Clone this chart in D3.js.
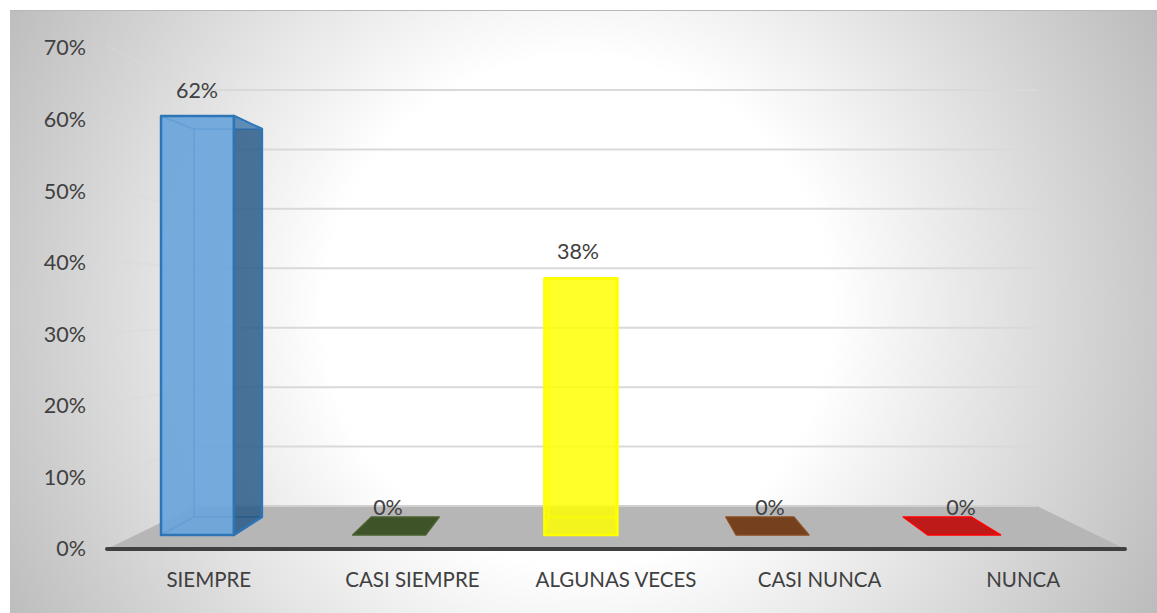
<!DOCTYPE html>
<html>
<head>
<meta charset="utf-8">
<script src="https://cdnjs.cloudflare.com/ajax/libs/d3/7.8.5/d3.min.js"></script>
<style>html,body{margin:0;padding:0;background:#fff;overflow:hidden}svg{display:block}text{font-family:Lato,"Open Sans",sans-serif}</style>
</head>
<body>
<div id="chart"></div>
<script>
const categories = ["SIEMPRE","CASI SIEMPRE","ALGUNAS VECES","CASI NUNCA","NUNCA"];
const values = [62,0,38,0,0];
const labels = ["62%","0%","38%","0%","0%"];
const yTicks = [0,10,20,30,40,50,60,70];
const fills = ["#6aa5db","#3f5329","#ffff00","#74401d","#bf1a1a"];
const strokes = ["#2e75b6","#4a6130","#ffff00","#8a4a1f","#ff0000"];
const sideFills = ["#1f4e79","#3f5329","#ffff00","#74401d","#bf1a1a"];
const frontOpacity = [0.85,1,0.78,1,1];
const innerOpacity = [0.45,1,0.25,1,1];

const W = 1157, H = 613;
const svg = d3.select("#chart").append("svg").attr("width",W).attr("height",H);
const defs = svg.append("defs");
const g = defs.append("radialGradient").attr("id","bg").attr("gradientUnits","userSpaceOnUse")
  .attr("cx",578).attr("cy",311).attr("r",650);
[[0,"#ffffff"],[0.39,"#ffffff"],[1,"#bcbcbc"]].forEach(s=>
  g.append("stop").attr("offset",s[0]).attr("stop-color",s[1]));
svg.append("rect").attr("x",10).attr("y",10).attr("width",W-10).attr("height",H-10).attr("fill","url(#bg)");
svg.append("line").attr("x1",10).attr("x2",W).attr("y1",10.5).attr("y2",10.5).attr("stroke","#b8b8b8");

// Projection planes
const yAxisS = d3.scaleLinear().domain([0,70]).range([549,48]);
const yBack  = d3.scaleLinear().domain([0,70]).range([506,90]);
const yBarF  = d3.scaleLinear().domain([0,62]).range([535,116]);
const yBarB  = d3.scaleLinear().domain([0,62]).range([517,129]);
const xLabel = d3.scaleBand().domain(categories).range([107,1125]);
const xF = d3.scaleBand().domain(categories).range([101.6,1060]).paddingInner(0.62).paddingOuter(0.31);
const xB = d3.scaleBand().domain(categories).range([139.3,1025.8]).paddingInner(0.617).paddingOuter(0.3085);
const floorFront = [107,1125], floorBack = [195,1037];

// Walls
const grid = svg.append("g");
yTicks.filter(d=>d>0).forEach(d=>{
  grid.append("line").attr("x1",floorBack[0]).attr("x2",floorBack[1]).attr("y1",yBack(d)).attr("y2",yBack(d))
    .attr("stroke","#d9d9d9").attr("stroke-width",2);
  grid.append("line").attr("x1",floorFront[0]).attr("x2",floorBack[0]).attr("y1",yAxisS(d)-2).attr("y2",yBack(d))
    .attr("stroke","#d9d9d9").attr("stroke-opacity",0.4).attr("stroke-width",2);
});

// Floor
const path = pts => "M"+pts.map(p=>p.join(",")).join("L")+"Z";
svg.append("path").attr("d",path([[floorFront[0],549],[floorBack[0],506],[floorBack[1],506],[floorFront[1],549]])).attr("fill","#b6b6b6");
svg.append("line").attr("x1",floorBack[0]).attr("x2",floorBack[1]).attr("y1",506).attr("y2",506).attr("stroke","#d0d0d0").attr("stroke-width",2);
svg.append("line").attr("x1",floorFront[0]).attr("x2",floorFront[1]).attr("y1",549).attr("y2",549)
  .attr("stroke","#404040").attr("stroke-width",4).attr("stroke-linecap","round");

// Bars
const bars = svg.selectAll("g.bar").data(categories).join("g").attr("class","bar");
bars.each(function(c,i){
  const s = d3.select(this), v = values[i];
  const fl = xF(c), fr = fl+xF.bandwidth(), bl = xB(c), br = bl+xB.bandwidth();
  const f0 = yBarF(0), ft = yBarF(v), b0 = yBarB(0), bt = yBarB(v);
  const face = (pts,fill,op,sw,sop=1) => s.append("path").attr("d",path(pts)).attr("fill",fill).attr("fill-opacity",op)
    .attr("stroke",strokes[i]).attr("stroke-width",sw).attr("stroke-opacity",sop).attr("stroke-linejoin","round");
  if (v>0) {
    const o = innerOpacity[i];
    face([[bl,b0],[br,b0],[br,bt],[bl,bt]],fills[i],o,1.5,0.6);   // back
    face([[fl,f0],[bl,b0],[bl,bt],[fl,ft]],fills[i],o,1.5,0.6);   // left
    face([[fl,f0],[fr,f0],[br,b0],[bl,b0]],fills[i],o,1.5,0.6);   // bottom
    face([[fr,f0],[br,b0],[br,bt],[fr,ft]],sideFills[i],i===0?0.72:0.3,2.5);  // right
    face([[fl,ft],[fr,ft],[br,bt],[bl,bt]],fills[i],o,1.5,0.6);   // top
    face([[fl,f0],[fr,f0],[fr,ft],[fl,ft]],fills[i],frontOpacity[i],2.5);   // front
  } else {
    face([[fl,f0],[fr,f0],[br,b0],[bl,b0]],fills[i],1,1.5);
  }
});

// Value labels
const labelX = [197,388,578,770,961];
const labelY = [90,507.5,251.5,507.5,507.5];
svg.selectAll("text.val").data(labels).join("text").attr("class","val")
  .attr("x",(d,i)=>labelX[i]).attr("y",(d,i)=>labelY[i]).attr("dy","0.35em")
  .attr("text-anchor","middle").attr("font-size",21.5).attr("fill","#404040").text(d=>d);

// Axes
const yAxis = svg.append("g").attr("transform","translate(92,0)")
  .call(d3.axisLeft(yAxisS).tickValues(yTicks).tickSize(0).tickPadding(6).tickFormat(d=>d+"%"));
yAxis.select(".domain").remove();
yAxis.selectAll("text").attr("font-family",'Lato,"Open Sans",sans-serif').attr("font-size",21.5).attr("fill","#404040");
const xAxis = svg.append("g").attr("transform","translate(0,549)")
  .call(d3.axisBottom(xLabel).tickSize(0).tickPadding(23));
xAxis.select(".domain").remove();
xAxis.selectAll("text").attr("font-family",'Lato,"Open Sans",sans-serif').attr("font-size",20.5).attr("fill","#404040");
</script>
</body>
</html>
